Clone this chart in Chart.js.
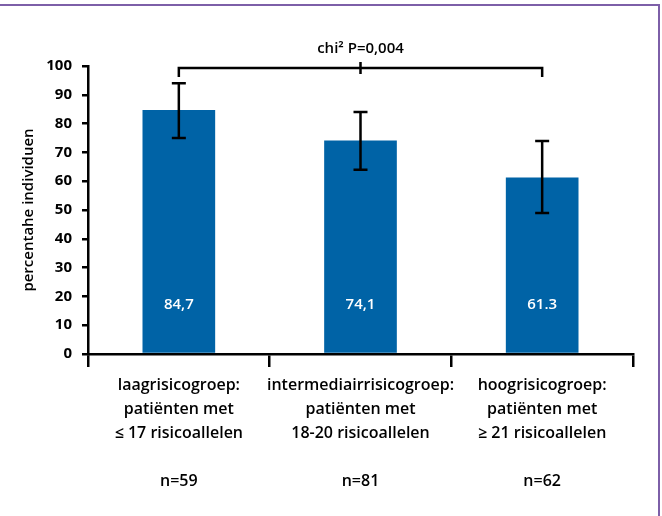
<!DOCTYPE html>
<html>
<head>
<meta charset="utf-8">
<script src="https://cdn.jsdelivr.net/npm/chart.js@4.4.0/dist/chart.umd.min.js"></script>
<style>
  html, body { margin: 0; padding: 0; background: #fff; }
  #frame {
    position: absolute; left: 0; top: 4px; width: 658px; height: 512px;
    border-top: 2px solid #7d5fa8; border-right: 2px solid #7d5fa8;
  }
  #wrap { position: absolute; left: 0; top: 0; width: 662px; height: 516px; }
</style>
</head>
<body>
<div id="frame"></div>
<div id="wrap"><canvas id="chart" width="662" height="516"></canvas></div>
<script>
const categories = [
    ['laagrisicogroep:', 'patiënten met', '≤ 17 risicoallelen', '', 'n=59'],
    ['intermediairrisicogroep:', 'patiënten met', '18-20 risicoallelen', '', 'n=81'],
    ['hoogrisicogroep:', 'patiënten met', '≥ 21 risicoallelen', '', 'n=62']
];
const values = [84.7, 74.1, 61.3];
const valueLabels = ['84,7', '74,1', '61.3'];
const errLow = [75, 64, 49];
const errHigh = [94, 84, 74];
const bracketValue = 100;
const bracketText = 'chi² P=0,004';

const fontFamily = '"Open Sans", "Noto Sans", sans-serif';

const overlay = {
    id: 'overlay',
    afterDatasetsDraw(chart) {
        const ctx = chart.ctx;
        const x = chart.scales.x, y = chart.scales.y;
        ctx.save();
        ctx.strokeStyle = '#000';
        ctx.lineWidth = 2.5;
        // error bars
        values.forEach((v, i) => {
            const cx = x.getPixelForValue(i);
            const top = y.getPixelForValue(errHigh[i]);
            const bot = y.getPixelForValue(errLow[i]);
            ctx.beginPath();
            ctx.moveTo(cx, top); ctx.lineTo(cx, bot);
            ctx.moveTo(cx - 7, top); ctx.lineTo(cx + 7, top);
            ctx.moveTo(cx - 7, bot); ctx.lineTo(cx + 7, bot);
            ctx.stroke();
        });
        // value labels
        ctx.fillStyle = '#fff';
        ctx.font = '600 15px ' + fontFamily;
        ctx.textAlign = 'center';
        ctx.textBaseline = 'middle';
        valueLabels.forEach((t, i) => {
            ctx.fillText(t, x.getPixelForValue(i), y.getPixelForValue(17));
        });
        // bracket
        const x0 = x.getPixelForValue(0), x2 = x.getPixelForValue(2), x1 = x.getPixelForValue(1);
        const by = y.getPixelForValue(bracketValue) + 2;
        ctx.beginPath();
        ctx.moveTo(x0, by + 9); ctx.lineTo(x0, by); ctx.lineTo(x2, by); ctx.lineTo(x2, by + 9);
        ctx.moveTo(x1, by - 6); ctx.lineTo(x1, by + 6);
        ctx.stroke();
        ctx.fillStyle = '#000';
        ctx.font = '600 15px ' + fontFamily;
        ctx.fillText(bracketText, x1, by - 19);
        ctx.restore();
    }
};

new Chart(document.getElementById('chart').getContext('2d'), {
    type: 'bar',
    data: {
        labels: categories,
        datasets: [{
            data: values,
            backgroundColor: '#0063a6',
            barPercentage: 0.8,
            categoryPercentage: 0.5
        }]
    },
    options: {
        responsive: false,
        animation: false,
        layout: { padding: { top: 66, right: 29, left: 0, bottom: 0 } },
        plugins: { legend: { display: false }, tooltip: { enabled: false } },
        scales: {
            x: {
                afterFit(s) { s.height = 162; },
                border: { color: '#000', width: 2.5 },
                grid: { offset: true, drawOnChartArea: false, color: '#000', lineWidth: 2.5, tickLength: 13 },
                ticks: {
                    color: '#000',
                    padding: 6,
                    maxRotation: 0,
                    autoSkip: false,
                    font: { family: fontFamily, size: 16, weight: '600', lineHeight: 1.5 }
                }
            },
            y: {
                min: 0, max: 100,
                afterFit(s) { s.width = 88; },
                border: { color: '#000', width: 2.5 },
                grid: { drawOnChartArea: false, color: '#000', lineWidth: 2.5, tickLength: 6 },
                ticks: {
                    stepSize: 10,
                    color: '#000',
                    padding: 10,
                    font: { family: fontFamily, size: 15, weight: 'bold' }
                },
                title: {
                    display: true,
                    text: 'percentahe individuen',
                    color: '#000',
                    padding: { top: 20, bottom: 0 },
                    font: { family: fontFamily, size: 15, weight: '600' }
                }
            }
        }
    },
    plugins: [overlay]
});
</script>
</body>
</html>
